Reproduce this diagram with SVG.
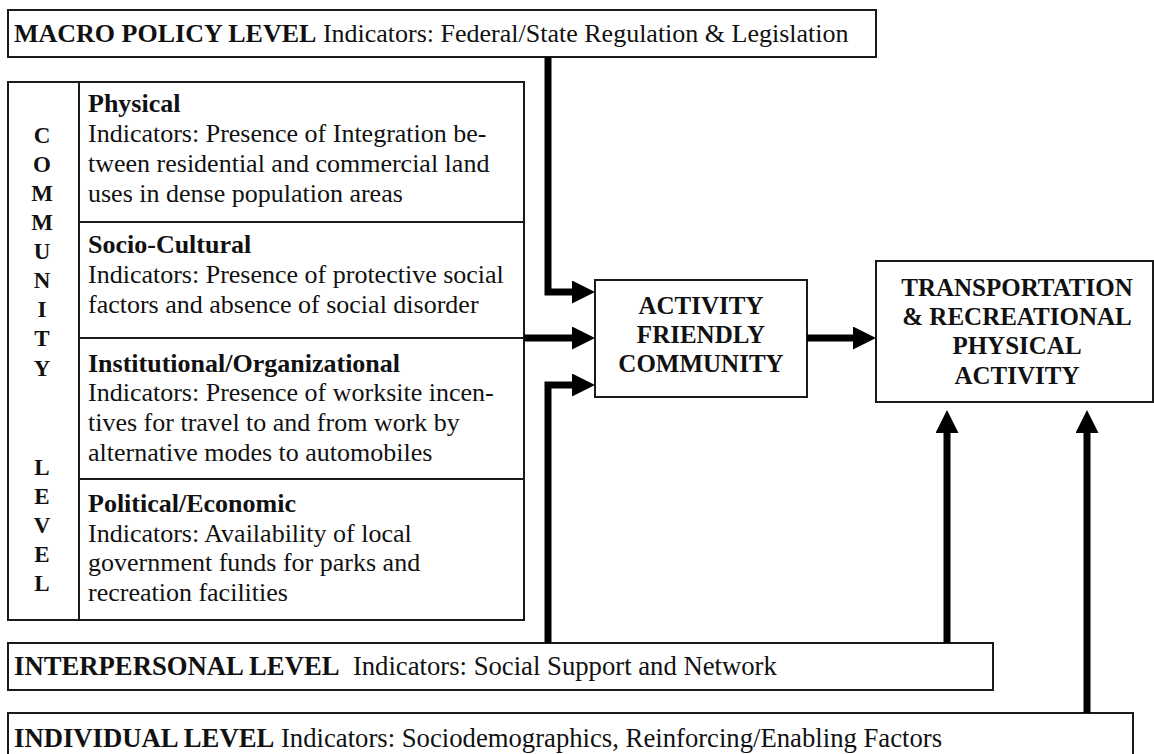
<svg xmlns="http://www.w3.org/2000/svg" width="1154" height="754" viewBox="0 0 1154 754">
<defs>
<style>
.box{fill:#fff;stroke:#1a1a1a;stroke-width:2}
.ln{stroke:#1a1a1a;stroke-width:2;fill:none}
.t{font-family:"Liberation Serif","Times New Roman",serif;font-size:26px;fill:#111}
.tb{font-family:"Liberation Serif","Times New Roman",serif;font-size:26.7px;fill:#111}
.b{font-weight:bold}
.v{font-family:"Liberation Serif","Times New Roman",serif;font-size:23px;font-weight:bold;fill:#111;text-anchor:middle}
.c{font-family:"Liberation Serif","Times New Roman",serif;font-size:25px;font-weight:bold;fill:#111;text-anchor:middle}
.arr{stroke:#000;stroke-width:7;fill:none;stroke-linejoin:miter;marker-end:url(#ah)}
</style>
<marker id="ah" markerUnits="userSpaceOnUse" markerWidth="24" markerHeight="24" refX="0" refY="11.5" orient="auto">
<path d="M0,0 L23,11.5 L0,23 Z" fill="#000"/>
</marker>
</defs>
<rect width="1154" height="754" fill="#fff"/>

<g id="macro">
<rect class="box" x="8" y="10" width="868" height="47"/>
<text class="t" x="14" y="42"><tspan class="b">MACRO POLICY LEVEL</tspan> Indicators: Federal/State Regulation &amp; Legislation</text>
</g>

<g id="community">
<rect class="box" x="8" y="82" width="516" height="538"/>
<line class="ln" x1="79" y1="82" x2="79" y2="620"/>
<line class="ln" x1="79" y1="222" x2="524" y2="222"/>
<line class="ln" x1="79" y1="338" x2="524" y2="338"/>
<line class="ln" x1="79" y1="479" x2="524" y2="479"/>
<g id="community-label">
<text class="v" x="42" y="143">C</text>
<text class="v" x="42" y="172">O</text>
<text class="v" x="42" y="201">M</text>
<text class="v" x="42" y="230">M</text>
<text class="v" x="42" y="259">U</text>
<text class="v" x="42" y="288">N</text>
<text class="v" x="42" y="317">I</text>
<text class="v" x="42" y="346">T</text>
<text class="v" x="42" y="376">Y</text>
<text class="v" x="42" y="475">L</text>
<text class="v" x="42" y="504">E</text>
<text class="v" x="42" y="533">V</text>
<text class="v" x="42" y="562">E</text>
<text class="v" x="42" y="591">L</text>
</g>
<g id="physical">
<text class="t b" x="88" y="112">Physical</text>
<text class="t" x="88" y="142">Indicators: Presence of Integration be-</text>
<text class="t" x="88" y="172">tween residential and commercial land</text>
<text class="t" x="88" y="202">uses in dense population areas</text>
</g>
<g id="sociocultural">
<text class="t b" x="88" y="253">Socio-Cultural</text>
<text class="t" x="88" y="283">Indicators: Presence of protective social</text>
<text class="t" x="88" y="313">factors and absence of social disorder</text>
</g>
<g id="institutional">
<text class="t b" x="88" y="372">Institutional/Organizational</text>
<text class="t" x="88" y="401">Indicators: Presence of worksite incen-</text>
<text class="t" x="88" y="431">tives for travel to and from work by</text>
<text class="t" x="88" y="461">alternative modes to automobiles</text>
</g>
<g id="political">
<text class="t b" x="88" y="512">Political/Economic</text>
<text class="t" x="88" y="542">Indicators: Availability of local</text>
<text class="t" x="88" y="571">government funds for parks and</text>
<text class="t" x="88" y="601">recreation facilities</text>
</g>
</g>

<g id="activity">
<rect class="box" x="595" y="280" width="212" height="117"/>
<text class="c" x="701" y="314">ACTIVITY</text>
<text class="c" x="701" y="343">FRIENDLY</text>
<text class="c" x="701" y="372">COMMUNITY</text>
</g>

<g id="transport">
<rect class="box" x="876" y="261" width="277" height="141"/>
<text class="c" x="1017" y="296">TRANSPORTATION</text>
<text class="c" x="1017" y="325">&amp; RECREATIONAL</text>
<text class="c" x="1017" y="354">PHYSICAL</text>
<text class="c" x="1017" y="384">ACTIVITY</text>
</g>

<g id="interpersonal">
<rect class="box" x="8" y="643" width="985" height="47"/>
<text class="tb" x="14" y="675" xml:space="preserve"><tspan class="b">INTERPERSONAL LEVEL</tspan>  Indicators: Social Support and Network</text>
</g>

<g id="individual">
<rect class="box" x="8" y="713" width="1125" height="60"/>
<text class="tb" x="14" y="747"><tspan class="b">INDIVIDUAL LEVEL</tspan> Indicators: Sociodemographics, Reinforcing/Enabling Factors</text>
</g>

<g id="connectors">
<path class="arr" d="M548,57 V292 H572"/>
<path class="arr" d="M524,338 H572"/>
<path class="arr" d="M548,643 V385 H572"/>
<path class="arr" d="M807,338 H853"/>
<path class="arr" d="M947,643 V433"/>
<path class="arr" d="M1087,713 V433"/>
</g>
</svg>
